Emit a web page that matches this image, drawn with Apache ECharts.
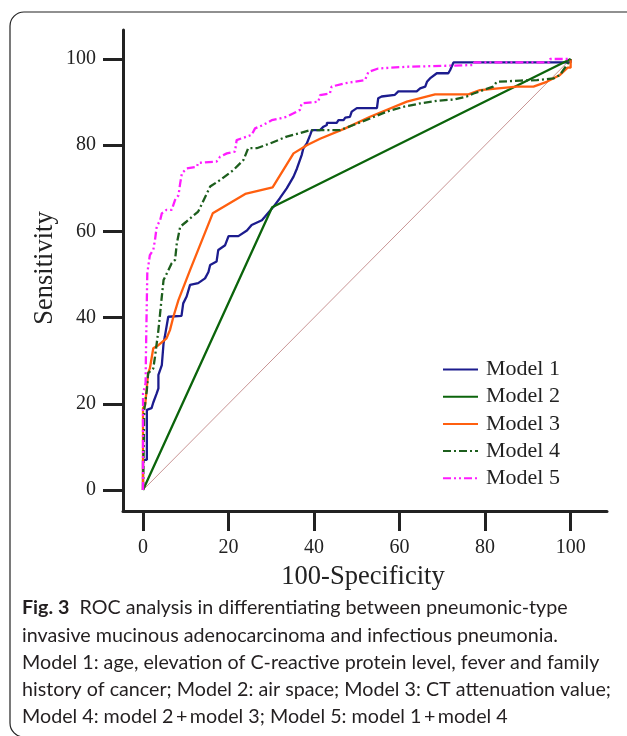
<!DOCTYPE html>
<html>
<head>
<meta charset="utf-8">
<script src="https://cdn.jsdelivr.net/npm/echarts@6/dist/echarts.min.js"></script>
<style>html,body{margin:0;padding:0;background:#fff}#c{width:627px;height:736px}</style>
</head>
<body>
<div id="c"></div>
<script>
// ---- data (x = 100-Specificity, y = Sensitivity) ----
const tickValues = [0, 20, 40, 60, 80, 100];
const seriesNames = ['Model 1', 'Model 2', 'Model 3', 'Model 4', 'Model 5'];
const xTitle = '100-Specificity';
const yTitle = 'Sensitivity';

const model1 = [[0,0],[0,7],[0.9,7],[0.9,18.6],[2.0,19.0],[2.4,20.3],[3.2,22.4],[3.6,23.6],[3.6,26.7],[4.0,27.1],[4.4,29.0],[4.8,34.0],[5.1,35.6],[5.5,35.6],[5.9,40.2],[9.0,40.4],[9.4,43.3],[10.2,44.9],[11.0,47.6],[12.9,48.0],[14.5,49.1],[15.3,50.6],[15.7,52.2],[17.2,53.0],[17.6,55.7],[19.2,56.8],[20.0,58.9],[22.3,58.9],[24.3,60.2],[25.4,61.5],[27.8,62.6],[28.5,63.4],[30.5,65.7],[32.0,67.7],[33.6,70.0],[35.2,72.7],[36.0,74.6],[37.1,77.7],[37.5,79.3],[38.3,80.4],[39.1,82.4],[39.5,83.5],[41.4,83.5],[42.2,84.3],[43.0,84.7],[43.0,85.2],[45.3,85.2],[45.7,85.8],[46.9,85.8],[47.3,86.4],[48.4,86.6],[48.8,87.8],[50.0,88.6],[54.7,88.6],[55.0,90.9],[55.8,91.3],[58.9,91.7],[59.7,92.5],[64.0,92.5],[64.8,93.2],[66.0,93.6],[66.4,94.7],[67.1,95.5],[68.7,96.7],[71.4,96.7],[71.8,97.4],[72.6,99.2],[100,99.2],[100,100]];

const model2 = [[0,0],[30.2,65.6],[100,100]];

const model3 = [[0,0],[0,19.0],[0.5,19.7],[1.2,27.1],[1.6,28.2],[2.4,32.9],[3.6,33.6],[5.5,35.2],[6.3,37.1],[7.1,40.2],[8.3,44.1],[11.0,51.0],[16.3,64.2],[23.9,68.7],[30.3,70.2],[35.2,78.1],[38.3,80.0],[41.4,81.5],[47.3,83.9],[53.1,86.6],[61.7,90.1],[68.3,91.8],[76.1,91.8],[78.8,92.8],[87.4,93.6],[91.3,93.6],[94.4,94.7],[97.5,96.3],[99.3,98.0],[100,98.0],[100,100]];

const model4 = [[0,0],[0.3,18.6],[0.9,23.2],[1.2,27.1],[2.4,28.2],[2.8,30.9],[3.6,37.1],[4.4,44.9],[4.8,48.7],[6.7,52.6],[7.5,53.4],[7.9,57.2],[8.7,61.1],[10.2,62.3],[12.9,64.6],[15.7,70.4],[18.0,71.9],[21.1,74.2],[23.5,76.6],[24.6,79.3],[26.6,79.3],[29.7,80.4],[33.6,82.0],[36.7,82.8],[39.1,83.5],[46.1,83.5],[49.2,84.7],[53.1,86.2],[57.0,87.8],[60.9,88.9],[64.8,89.7],[68.7,90.3],[72.6,90.6],[75.7,91.3],[77.3,92.0],[81.9,93.6],[82.7,94.7],[88.2,95.0],[92.1,95.1],[96.0,95.5],[97.5,96.3],[99.1,98.6],[100,100]];

const model5 = [[0,0],[0,22.4],[0.6,24.8],[0.7,32.5],[1.0,50.3],[1.6,54.5],[2.4,55.7],[2.8,58.0],[3.2,61.1],[4.0,62.6],[4.4,64.2],[5.5,65.0],[6.7,65.0],[7.5,67.3],[8.3,68.4],[8.7,71.2],[9.1,73.5],[10.2,74.6],[12.6,75.0],[12.9,75.9],[17.2,76.2],[18.0,77.3],[19.6,78.1],[21.5,78.5],[21.9,81.2],[24.3,82.0],[25.4,82.4],[26.2,83.9],[28.1,84.7],[30.1,85.8],[32.0,86.2],[33.6,86.6],[35.2,87.4],[36.7,88.2],[37.1,89.7],[41.0,90.1],[41.4,91.6],[43.7,92.0],[44.1,93.6],[47.3,94.4],[49.2,94.7],[51.9,95.1],[52.7,97.0],[55.0,97.8],[61.7,98.2],[62.0,98.6],[77.3,98.6],[77.5,99.2],[95.0,99.2],[95.2,100],[100,100]];

const reference = [[0,0],[100,100]];

const captionBold = 'Fig. 3';
const captionLines = [
  'ROC analysis in differentiating between pneumonic-type',
  'invasive mucinous adenocarcinoma and infectious pneumonia.',
  'Model 1: age, elevation of C-reactive protein level, fever and family',
  'history of cancer; Model 2: air space; Model 3: CT attenuation value;',
  'Model 4: model 2\u2009+\u2009model 3; Model 5: model 1\u2009+\u2009model 4'
];

// ---- chart ----
const serif = 'Liberation Serif';
const capFont = 'Lato';
const capSize = 19.7;
const chart = echarts.init(document.getElementById('c'), null, {renderer: 'canvas'});

const axisCommon = {
  type: 'value',
  splitLine: {show: false},
  axisLine: {show: true, onZero: false, lineStyle: {color: '#222', width: 3}},
  axisTick: {show: true, length: 20, customValues: tickValues, lineStyle: {color: '#222', width: 3}},
  axisLabel: {customValues: tickValues, margin: 27, fontFamily: serif, fontSize: 20, color: '#222'}
};

const lineSeries = (name, data, color, type, width) => ({
  name, type: 'line', data, symbol: 'none', showSymbol: false,
  lineStyle: {color, width, type}, itemStyle: {color},
  emphasis: {disabled: true}, silent: true, animation: false
});

const caption = captionLines.map((t, i) => ({
  type: 'text', left: 22, top: 598 + i * 27.2,
  style: i === 0
    ? {text: '{b|' + captionBold + '}  ' + t, rich: {b: {fontWeight: 'bold', fontFamily: capFont, fontSize: capSize, fill: '#231f20'}}, fontFamily: capFont, fontSize: capSize, fill: '#231f20'}
    : {text: t, fontFamily: capFont, fontSize: capSize, fill: '#231f20'}
}));

chart.setOption({
  animation: false,
  grid: {left: 123, right: 20, top: 30, bottom: 225, containLabel: false},
  xAxis: Object.assign({}, axisCommon, {min: -4.68, max: 108.5}),
  yAxis: Object.assign({}, axisCommon, {min: -4.87, max: 106.73}),
  legend: {
    data: seriesNames, orient: 'vertical', left: 437, top: 353.5,
    itemWidth: 35, itemHeight: 14, itemGap: 5.2,
    selectedMode: false,
    itemStyle: {color: 'rgba(0,0,0,0)', borderWidth: 0, opacity: 0},
    textStyle: {fontFamily: serif, fontSize: 22, color: '#222', lineHeight: 22, padding: [0, 0, 0, 3]}
  },
  series: [
    Object.assign(lineSeries('ref', reference, '#c89494', 'solid', 1), {legendHoverLink: false}),
    lineSeries('Model 1', model1, '#1c1c8e', 'solid', 2.3),
    lineSeries('Model 2', model2, '#0b640b', 'solid', 2.3),
    lineSeries('Model 3', model3, '#ff5f0f', 'solid', 2.3),
    lineSeries('Model 4', model4, '#1d5e1d', [8, 3, 2, 3], 2.3),
    lineSeries('Model 5', model5, '#ff1cff', [8, 3, 2, 3, 2, 3], 2.3)
  ],
  graphic: [
    {type: 'rect', shape: {x: 10, y: 12, width: 700, height: 725, r: 14}, style: {fill: 'none', stroke: '#222', lineWidth: 1.2}, silent: true},
    {type: 'text', x: 363, y: 577, style: {text: xTitle, fontFamily: serif, fontSize: 26.5, fill: '#222', align: 'center', verticalAlign: 'middle'}},
    {type: 'text', x: 45, y: 268, rotation: Math.PI / 2, style: {text: yTitle, fontFamily: serif, fontSize: 26.5, fill: '#222', align: 'center', verticalAlign: 'middle'}}
  ].concat(caption)
});
</script>
</body>
</html>
